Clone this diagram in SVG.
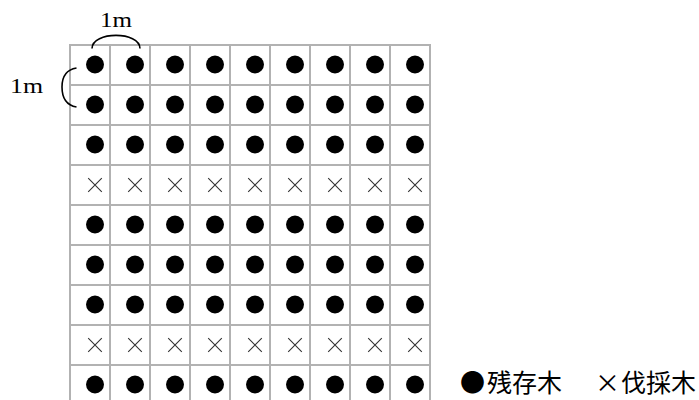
<svg xmlns="http://www.w3.org/2000/svg" width="699" height="400" viewBox="0 0 699 400">
<defs>
<style>
.grid line{stroke:#b2b2b2;stroke-width:2}
.tree{fill:#000}
.cut{stroke:#333;stroke-width:1.1;fill:none}
.lbl{font-family:"Liberation Serif","DejaVu Serif",serif;font-size:21px;fill:#000}
.leg{font-family:"Noto Sans CJK JP",sans-serif;font-size:25px;fill:#000}
.br{stroke:#000;stroke-width:1.6;fill:none}
</style>
<circle id="d" r="9" class="tree"/>
<path id="x" class="cut" d="M-6.8,-6.8L6.8,6.8M6.8,-6.8L-6.8,6.8"/>
</defs>
<rect width="699" height="400" fill="#fff"/>
<g id="grid" class="grid">
<line x1="70" y1="45" x2="70" y2="400"/><line x1="110" y1="45" x2="110" y2="400"/><line x1="150" y1="45" x2="150" y2="400"/><line x1="190" y1="45" x2="190" y2="400"/><line x1="230" y1="45" x2="230" y2="400"/><line x1="270" y1="45" x2="270" y2="400"/><line x1="310" y1="45" x2="310" y2="400"/><line x1="350" y1="45" x2="350" y2="400"/><line x1="390" y1="45" x2="390" y2="400"/><line x1="430" y1="45" x2="430" y2="400"/>
<line x1="69" y1="45" x2="431" y2="45"/><line x1="69" y1="85" x2="431" y2="85"/><line x1="69" y1="125" x2="431" y2="125"/><line x1="69" y1="165" x2="431" y2="165"/><line x1="69" y1="205" x2="431" y2="205"/><line x1="69" y1="245" x2="431" y2="245"/><line x1="69" y1="285" x2="431" y2="285"/><line x1="69" y1="325" x2="431" y2="325"/><line x1="69" y1="365" x2="431" y2="365"/>
</g>
<g id="row1"><use href="#d" x="95" y="64.5"/><use href="#d" x="135" y="64.5"/><use href="#d" x="175" y="64.5"/><use href="#d" x="215" y="64.5"/><use href="#d" x="255" y="64.5"/><use href="#d" x="295" y="64.5"/><use href="#d" x="335" y="64.5"/><use href="#d" x="375" y="64.5"/><use href="#d" x="415" y="64.5"/></g>
<g id="row2"><use href="#d" x="95" y="104.5"/><use href="#d" x="135" y="104.5"/><use href="#d" x="175" y="104.5"/><use href="#d" x="215" y="104.5"/><use href="#d" x="255" y="104.5"/><use href="#d" x="295" y="104.5"/><use href="#d" x="335" y="104.5"/><use href="#d" x="375" y="104.5"/><use href="#d" x="415" y="104.5"/></g>
<g id="row3"><use href="#d" x="95" y="144.5"/><use href="#d" x="135" y="144.5"/><use href="#d" x="175" y="144.5"/><use href="#d" x="215" y="144.5"/><use href="#d" x="255" y="144.5"/><use href="#d" x="295" y="144.5"/><use href="#d" x="335" y="144.5"/><use href="#d" x="375" y="144.5"/><use href="#d" x="415" y="144.5"/></g>
<g id="row4"><use href="#x" x="95" y="185"/><use href="#x" x="135" y="185"/><use href="#x" x="175" y="185"/><use href="#x" x="215" y="185"/><use href="#x" x="255" y="185"/><use href="#x" x="295" y="185"/><use href="#x" x="335" y="185"/><use href="#x" x="375" y="185"/><use href="#x" x="415" y="185"/></g>
<g id="row5"><use href="#d" x="95" y="224.5"/><use href="#d" x="135" y="224.5"/><use href="#d" x="175" y="224.5"/><use href="#d" x="215" y="224.5"/><use href="#d" x="255" y="224.5"/><use href="#d" x="295" y="224.5"/><use href="#d" x="335" y="224.5"/><use href="#d" x="375" y="224.5"/><use href="#d" x="415" y="224.5"/></g>
<g id="row6"><use href="#d" x="95" y="264.5"/><use href="#d" x="135" y="264.5"/><use href="#d" x="175" y="264.5"/><use href="#d" x="215" y="264.5"/><use href="#d" x="255" y="264.5"/><use href="#d" x="295" y="264.5"/><use href="#d" x="335" y="264.5"/><use href="#d" x="375" y="264.5"/><use href="#d" x="415" y="264.5"/></g>
<g id="row7"><use href="#d" x="95" y="304.5"/><use href="#d" x="135" y="304.5"/><use href="#d" x="175" y="304.5"/><use href="#d" x="215" y="304.5"/><use href="#d" x="255" y="304.5"/><use href="#d" x="295" y="304.5"/><use href="#d" x="335" y="304.5"/><use href="#d" x="375" y="304.5"/><use href="#d" x="415" y="304.5"/></g>
<g id="row8"><use href="#x" x="95" y="345"/><use href="#x" x="135" y="345"/><use href="#x" x="175" y="345"/><use href="#x" x="215" y="345"/><use href="#x" x="255" y="345"/><use href="#x" x="295" y="345"/><use href="#x" x="335" y="345"/><use href="#x" x="375" y="345"/><use href="#x" x="415" y="345"/></g>
<g id="row9"><use href="#d" x="95" y="384.5"/><use href="#d" x="135" y="384.5"/><use href="#d" x="175" y="384.5"/><use href="#d" x="215" y="384.5"/><use href="#d" x="255" y="384.5"/><use href="#d" x="295" y="384.5"/><use href="#d" x="335" y="384.5"/><use href="#d" x="375" y="384.5"/><use href="#d" x="415" y="384.5"/></g>
<g id="connectors">
<path class="br" d="M92,48.5C92,31 140,31 140,48.5"/>
<path class="br" d="M76.5,68C64,70 62,80 62,87C62,96 65,105 76.5,107"/>
</g>
<g id="label-top"><text class="lbl" x="100" y="27" textLength="32" lengthAdjust="spacingAndGlyphs">1m</text></g>
<g id="label-left"><text class="lbl" x="10" y="93" textLength="33" lengthAdjust="spacingAndGlyphs">1m</text></g>
<g id="legend">
<text class="leg" x="472.5" y="392" text-anchor="middle">●</text>
<text class="leg" x="487" y="392">残存木</text>
<text class="leg" x="607.5" y="392" text-anchor="middle">×</text>
<text class="leg" x="621" y="392">伐採木</text>
</g>
</svg>
